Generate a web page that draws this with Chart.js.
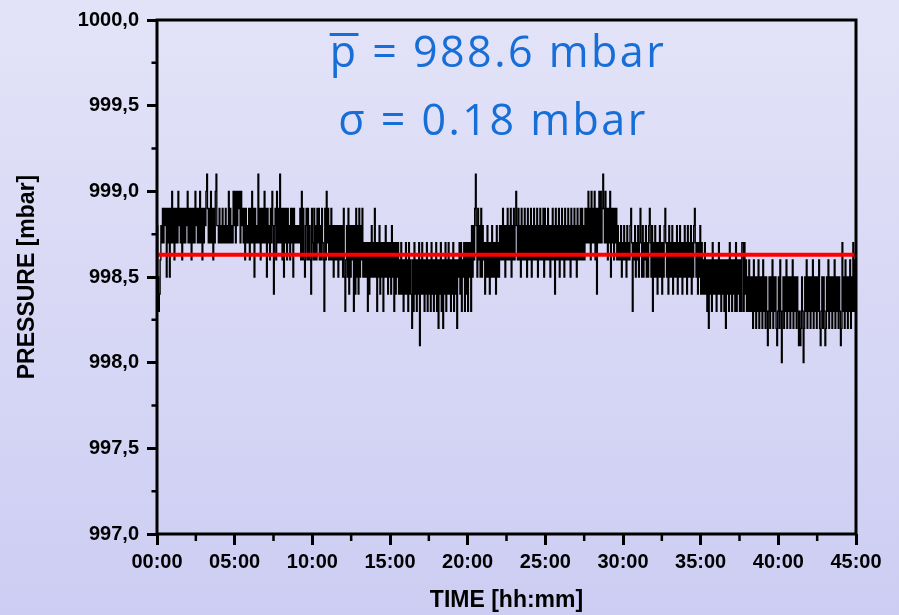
<!DOCTYPE html>
<html><head><meta charset="utf-8">
<script src="https://cdn.jsdelivr.net/npm/chart.js@4.4.1/dist/chart.umd.min.js"></script>
<style>
html,body{margin:0;padding:0;}
body{width:899px;height:615px;background:linear-gradient(to bottom,#e3e3f8,#cdcdf3);overflow:hidden;}
canvas{display:block;}
</style></head><body>
<canvas id="c" width="899" height="615"></canvas>
<script>
// sampling interval of the pressure record, minutes
const sampleStepMin = 0.05;
// pressure readings [mbar] (quantised at 0.1 mbar)
const pressure = [
998.8,998.5,998.3,998.4,998.6,998.8,
998.7,998.9,998.7,998.9,998.8,998.9,998.5,998.9,998.7,998.9,
998.5,998.9,998.7,999.0,998.7,998.9,998.6,998.9,998.7,998.9,
998.7,999.0,998.8,998.9,998.7,998.9,998.6,998.9,998.7,998.9,
998.7,998.9,998.8,999.0,998.7,998.9,998.7,998.9,998.6,998.9,
998.7,998.9,998.7,999.0,998.8,998.9,998.7,998.9,998.7,999.0,
998.7,998.9,998.6,998.9,998.7,998.9,998.8,999.0,999.1,998.9,
998.7,998.9,998.7,999.0,998.7,998.9,998.6,998.9,998.7,999.0,
999.1,998.8,
998.8,998.7,998.9,998.7,998.8,998.7,998.9,998.7,998.8,998.7,
998.9,998.7,998.8,998.7,999.0,998.7,998.9,998.7,998.8,998.7,
999.0,998.8,999.0,998.7,999.0,998.8,999.0,998.9,999.0,998.7,
999.0,998.8,998.9,998.7,998.9,998.6,998.9,998.7,998.8,998.7,
998.9,998.6,998.9,998.7,999.0,998.7,998.9,998.5,998.9,998.7,
998.8,998.7,999.1,998.7,998.9,998.6,998.9,998.7,998.9,998.7,
999.0,998.7,998.9,998.5,998.9,998.7,998.8,998.6,998.9,998.7,
999.0,998.8,998.4,998.8,998.9,998.6,999.0,998.7,998.9,998.7,
999.1,998.7,998.9,998.6,998.9,998.5,998.9,998.7,998.9,998.6,
998.9,998.7,998.8,998.6,998.9,998.7,998.9,998.5,998.9,998.7,
998.8,998.7,998.8,998.7,998.8,998.7,
998.9,998.6,999.0,998.6,998.9,998.6,998.5,998.8,998.9,998.6,
998.9,998.6,998.8,998.6,998.4,998.9,998.7,998.6,998.9,998.6,
998.8,998.6,998.9,998.7,998.9,998.6,998.8,998.6,998.9,998.7,
998.6,998.3,998.9,998.6,999.0,998.7,998.9,998.6,998.8,998.6,
998.9,998.6,998.8,998.5,998.8,998.6,998.8,998.6,998.8,998.5,
998.8,998.6,998.8,998.6,
998.8,998.5,998.9,998.5,998.3,998.6,998.8,998.5,998.9,998.4,
998.8,998.5,998.8,998.6,998.8,998.3,998.8,998.4,998.9,998.5,
998.8,998.4,998.9,998.5,998.8,998.6,998.9,998.5,998.7,998.5,
998.7,998.5,998.7,998.3,998.7,998.4,998.7,998.5,998.8,998.5,
998.7,998.5,998.9,998.5,998.7,998.3,998.7,998.5,998.8,998.4,
998.7,998.5,998.7,998.3,998.7,998.5,998.8,998.5,998.7,998.4,
998.7,998.5,998.7,998.4,998.8,998.5,998.7,998.3,998.7,998.4,
998.7,998.5,998.7,998.4,
998.6,998.4,998.7,998.4,998.6,998.3,998.6,998.4,998.7,998.4,
998.6,998.3,998.7,998.4,998.6,998.4,998.2,998.6,998.3,998.7,
998.4,998.6,998.3,998.6,998.4,998.7,998.1,998.6,998.4,998.7,
998.4,998.6,998.3,998.6,998.4,998.7,998.3,998.6,998.4,998.6,
998.3,998.7,998.4,998.6,998.3,998.6,998.4,998.7,998.3,998.6,
998.2,998.6,998.4,998.7,998.3,998.6,998.2,998.6,998.4,998.7,
998.3,998.6,998.4,998.7,998.4,998.6,998.3,998.6,998.4,998.7,
998.3,998.6,998.4,998.6,998.2,998.6,
998.5,998.7,998.4,998.7,998.3,998.6,998.5,998.7,998.3,998.7,
998.4,998.7,998.3,998.7,998.5,998.7,998.3,998.8,998.5,998.8,
998.6,998.9,999.1,998.8,998.5,998.9,998.6,998.8,998.5,998.9,
998.5,998.8,998.6,998.7,998.4,998.7,998.5,998.8,998.5,998.7,
998.4,998.7,998.5,998.8,998.5,998.7,998.5,998.7,998.4,998.8,
998.5,998.7,998.5,998.8,
998.6,998.8,998.6,998.9,998.6,998.8,998.5,998.8,998.6,998.9,
998.6,998.8,998.6,998.9,998.5,998.8,998.6,998.9,998.6,998.8,
999.0,998.8,998.6,998.9,998.6,998.8,998.5,998.9,998.6,998.8,
998.6,998.9,998.6,998.8,998.5,998.9,998.6,998.8,998.6,998.9,
998.5,998.8,998.6,998.9,998.6,998.8,998.6,998.9,998.5,998.8,
998.6,998.9,998.6,998.8,998.6,998.9,998.5,998.9,998.6,998.8,
998.6,998.9,998.6,998.8,998.5,998.8,998.6,998.9,998.6,998.8,
998.4,998.9,998.6,998.8,998.6,998.9,998.5,998.8,998.6,998.9,
998.6,998.8,998.5,998.9,998.6,998.8,998.6,998.9,998.6,998.8,
998.5,998.9,998.6,998.8,998.6,998.9,998.6,998.8,998.5,998.9,
998.6,998.8,998.6,998.9,998.6,998.9,998.6,998.8,998.6,998.9,
998.7,998.9,998.7,999.0,998.7,998.9,998.6,999.0,998.7,998.9,
998.7,999.0,998.6,998.9,998.4,998.9,998.7,999.0,998.7,999.0,
998.7,998.9,999.1,998.9,998.7,999.0,998.7,998.9,998.6,998.9,
998.7,999.0,998.5,998.9,998.7,998.9,998.6,998.9,998.7,998.9,
998.6,998.8,998.6,998.7,998.6,998.8,998.5,998.7,998.6,998.8,
998.6,998.7,998.5,998.8,998.6,998.7,998.6,998.8,998.9,998.7,
998.3,998.7,998.6,998.8,998.5,998.7,998.6,998.8,998.5,998.7,
998.9,998.7,998.5,998.8,998.5,998.7,998.6,998.8,998.5,998.7,
998.5,998.8,998.9,998.7,998.5,998.8,998.3,998.7,998.5,998.8,
998.5,998.7,998.4,998.7,998.5,998.8,998.5,998.7,998.4,998.7,
998.5,998.8,998.9,998.7,998.5,998.7,998.4,998.8,998.5,998.7,
998.5,998.8,998.4,998.7,998.5,998.7,998.5,998.8,998.4,998.7,
998.5,998.8,998.5,998.7,998.4,998.7,998.5,998.8,998.5,998.7,
998.4,998.8,998.5,998.7,998.5,998.8,998.4,998.7,998.5,998.8,
998.9,998.7,998.5,998.7,998.4,998.7,998.5,998.8,998.4,998.7,
998.4,998.6,998.4,998.7,998.4,998.6,998.3,998.6,998.2,998.6,
998.4,998.6,998.3,998.7,998.4,998.6,998.4,998.6,998.3,998.6,
998.4,998.7,998.4,998.6,998.3,998.6,998.4,998.6,998.3,998.6,
998.2,998.6,998.4,998.6,998.3,998.7,998.4,998.6,998.3,998.6,
998.4,998.6,998.3,998.7,998.3,998.6,998.4,998.6,998.3,998.6,
998.3,998.7,
998.7,998.3,998.7,998.4,998.6,998.3,998.5,998.3,998.6,998.3,
998.5,998.3,998.5,998.2,998.6,998.3,998.5,998.2,998.5,998.3,
998.6,998.2,998.5,998.3,998.5,998.2,998.6,998.3,998.5,998.2,
998.5,998.3,998.1,998.3,998.5,998.2,998.5,998.3,998.6,998.2,
998.5,998.3,998.5,998.2,998.1,998.3,998.5,998.2,998.6,998.3,
998.0,998.3,998.5,998.2,998.5,998.3,998.6,998.2,998.5,998.3,
998.5,998.2,998.5,998.3,998.6,998.2,998.5,998.3,998.5,998.2,
998.5,998.3,998.1,998.3,998.1,998.2,998.5,998.3,998.0,998.2,
998.5,998.3,998.6,998.2,998.5,998.3,998.5,998.2,998.5,998.3,
998.6,998.2,998.5,998.3,998.5,998.2,998.5,998.3,998.6,998.2,
998.1,998.3,998.5,998.2,998.5,998.3,998.1,998.2,998.5,998.3,
998.6,998.2,998.5,998.3,998.5,998.2,998.5,998.3,998.6,998.2,
998.5,998.3,998.5,998.2,998.5,998.3,998.1,998.2,998.7,998.3,
998.5,998.2,998.6,998.3,998.5,998.2,998.5,998.3,998.6,998.2,
998.5,998.3,998.7,998.3,998.6,998.4,998.7
];
const meanPressure = 998.63;
const xRange = [0, 45];
const yRange = [997, 1000];
const xTickLabels = ['00:00','05:00','10:00','15:00','20:00','25:00','30:00','35:00','40:00','45:00'];
const yTickLabels = ['997,0','997,5','998,0','998,5','999,0','999,5','1000,0'];
const xMinorTicks = [2.5,7.5,12.5,17.5,22.5,27.5,32.5,37.5,42.5];
const yMinorTicks = [997.25,997.75,998.25,998.75,999.25,999.75];
const meanLabel = 'p = 988.6 mbar';
const sigmaLabel = 'σ = 0.18 mbar';

const seriesPoints = pressure.map((v, i) => ({x: i * sampleStepMin, y: v}));

const decor = {
  id: 'decor',
  afterDatasetsDraw(chart) {
    const {ctx, chartArea: a, scales: {x, y}} = chart;
    ctx.save();
    ctx.strokeStyle = '#000';
    ctx.lineWidth = 3;
    ctx.strokeRect(a.left, a.top, a.right - a.left, a.bottom - a.top);
    ctx.lineWidth = 2.5;
    ctx.beginPath();
    for (const v of yMinorTicks) {
      const py = y.getPixelForValue(v);
      ctx.moveTo(a.left - 5.5, py); ctx.lineTo(a.left, py);
    }
    for (const v of xMinorTicks) {
      const px = x.getPixelForValue(v);
      ctx.moveTo(px, a.bottom); ctx.lineTo(px, a.bottom + 7);
    }
    ctx.stroke();

    ctx.fillStyle = '#166ed6';
    ctx.font = '43px "Open Sans"';
    ctx.letterSpacing = '2.5px';
    ctx.textAlign = 'left';
    ctx.textBaseline = 'alphabetic';
    const w1 = ctx.measureText(meanLabel).width;
    const x1 = 498 - w1 / 2;
    ctx.fillText(meanLabel, x1, 67);
    const pw = ctx.measureText(meanLabel[0]).width;
    ctx.fillRect(x1, 33, pw, 3);
    const w2 = ctx.measureText(sigmaLabel).width;
    ctx.fillText(sigmaLabel, 493 - w2 / 2, 135);
    ctx.restore();
  }
};

const tickFont = {family: '"Liberation Sans", Arial, sans-serif', size: 20, weight: 'bold'};
const titleFont = {family: '"Liberation Sans", Arial, sans-serif', size: 23, weight: 'bold', lineHeight: 1.2};

new Chart(document.getElementById('c'), {
  type: 'line',
  data: {
    datasets: [
      {
        data: [{x: xRange[0], y: meanPressure}, {x: xRange[1], y: meanPressure}],
        borderColor: '#ff0000', borderWidth: 4, pointRadius: 0, order: 0
      },
      {
        data: seriesPoints,
        borderColor: '#000000', borderWidth: 1.35, pointRadius: 0, stepped: true,
        order: 1
      }
    ]
  },
  options: {
    responsive: false,
    animation: false,
    devicePixelRatio: 1,
    layout: {padding: {top: 20, right: 43, left: 0, bottom: 0}},
    plugins: {legend: {display: false}, tooltip: {enabled: false}},
    scales: {
      x: {
        type: 'linear', min: xRange[0], max: xRange[1],
        afterFit: s => { s.height = 81; },
        border: {display: false},
        grid: {drawOnChartArea: false, drawTicks: true, tickLength: 11, tickWidth: 3, tickColor: '#000'},
        ticks: {
          stepSize: 5, color: '#000', font: tickFont, padding: 5, maxRotation: 0, autoSkip: false,
          callback: (v, i) => xTickLabels[i]
        },
        title: {display: true, text: 'TIME [hh:mm]', color: '#000', font: titleFont, padding: {top: 0, bottom: 1}}
      },
      y: {
        type: 'linear', min: yRange[0], max: yRange[1],
        afterFit: s => { s.width = 157; },
        border: {display: false},
        grid: {drawOnChartArea: false, drawTicks: true, tickLength: 10, tickWidth: 3, tickColor: '#000'},
        ticks: {
          stepSize: 0.5, color: '#000', font: tickFont, padding: 8, autoSkip: false,
          callback: (v, i) => yTickLabels[i]
        },
        title: {display: true, text: 'PRESSURE [mbar]', color: '#000', font: titleFont, padding: {top: 14, bottom: 0}}
      }
    }
  },
  plugins: [decor]
});
</script>
</body></html>
